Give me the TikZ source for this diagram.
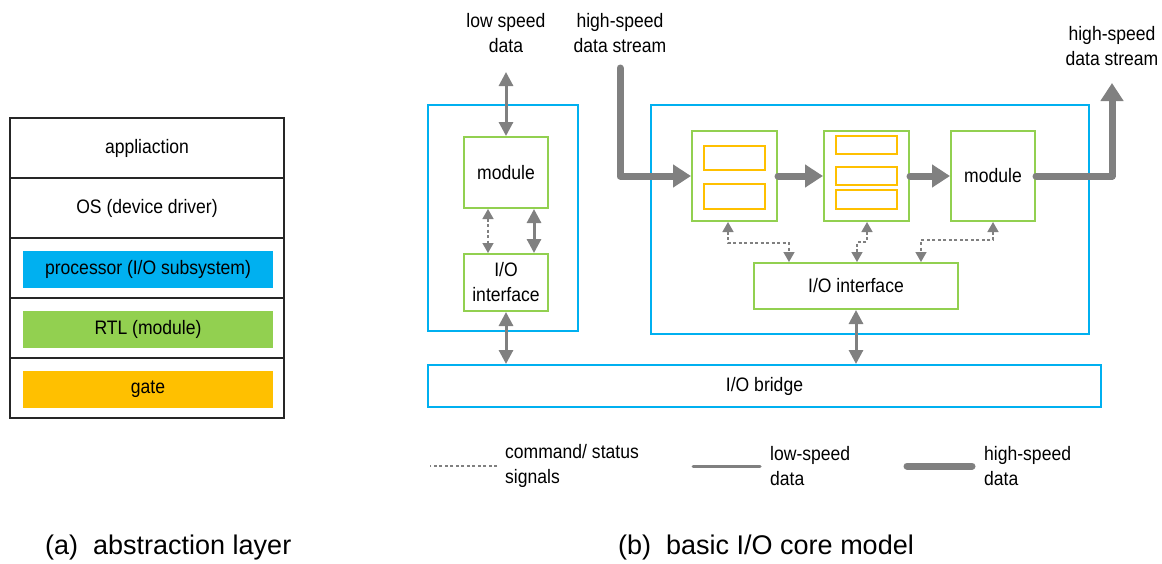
\documentclass[tikz,border=0pt]{standalone}
\usepackage{fontspec}
\setmainfont{Liberation Sans}[FakeStretch=0.9]
\newfontfamily\capfont{Liberation Sans}
\usetikzlibrary{arrows.meta}

\definecolor{sysblue}{HTML}{00B0F0}
\definecolor{rtlgreen}{HTML}{92D050}
\definecolor{gateorange}{HTML}{FFC000}
\definecolor{wiregray}{HTML}{808080}

\tikzset{
  txt/.style={font=\fontsize{19.5}{25}\selectfont, align=center, inner sep=0pt},
  layer/.style={txt, rectangle, draw=black!85, line width=1.6pt, minimum width=274pt, minimum height=60pt},
  bar/.style={txt, rectangle, minimum width=250pt, minimum height=37pt},
  subsys/.style={rectangle, draw=sysblue, line width=2pt},
  rtlbox/.style={txt, rectangle, draw=rtlgreen, line width=2pt},
  gatebox/.style={rectangle, draw=gateorange, line width=2pt},
  cmdsig/.style={draw=wiregray, line width=1.5pt, dash pattern=on 3pt off 2.5pt,
    {Triangle[length=10pt,width=11pt]}-{Triangle[length=10pt,width=11pt]}},
  lowdata/.style={draw=wiregray, line width=3pt,
    {Triangle[length=14pt,width=14pt]}-{Triangle[length=14pt,width=14pt]}},
  highdata/.style={draw=wiregray, line width=7pt, line join=round, line cap=round,
    -{Triangle[length=18pt,width=22pt]}},
  legtext/.style={txt, anchor=west, align=left},
  figcap/.style={font=\capfont\fontsize{27}{32}\selectfont, anchor=west, inner sep=0pt},
}

\begin{document}
\begin{tikzpicture}[x=1pt, y=-1pt]
    \useasboundingbox (0,0) rectangle (1162,563);

    % (a) abstraction layer
    \node [layer] (app) at (147,148) {appliaction};
    \node [layer] (os) at (147,208) {OS (device driver)};
    \node [layer] (rowproc) at (147,268) {};
    \node [layer] (rowrtl) at (147,328) {};
    \node [layer] (rowgate) at (147,388) {};
    \node [bar, fill=sysblue] (barproc) at (148,269.5) {processor (I/O subsystem)};
    \node [bar, fill=rtlgreen] (barrtl) at (148,329.5) {RTL (module)};
    \node [bar, fill=gateorange] (bargate) at (148,389.5) {gate};

    % (b) basic I/O core model
    \node [subsys, minimum width=150pt, minimum height=226pt] (sys1) at (503,218) {};
    \node [subsys, minimum width=438pt, minimum height=229pt] (sys2) at (870,219.5) {};
    \node [subsys, txt, minimum width=673pt, minimum height=42pt] (bridge) at (764.5,386) {I/O bridge};

    \node [rtlbox, minimum width=84pt, minimum height=71pt] (mod1) at (506,172.5) {module};
    \node [rtlbox, minimum width=84pt, minimum height=57pt] (if1) at (506,282.5) {I/O\\interface};

    \node [rtlbox, minimum width=85pt, minimum height=90pt] (blk1) at (734.5,176) {};
    \node [gatebox, minimum width=61pt, minimum height=24pt] (g11) at (734.5,158) {};
    \node [gatebox, minimum width=61pt, minimum height=25pt] (g12) at (734.5,196.5) {};

    \node [rtlbox, minimum width=85pt, minimum height=90pt] (blk2) at (866.5,176) {};
    \node [gatebox, minimum width=61pt, minimum height=18pt] (g21) at (866.5,145) {};
    \node [gatebox, minimum width=61pt, minimum height=18pt] (g22) at (866.5,176) {};
    \node [gatebox, minimum width=61pt, minimum height=19pt] (g23) at (866.5,199.5) {};

    \node [rtlbox, minimum width=84pt, minimum height=90pt] (mod3) at (993,176) {module};
    \node [rtlbox, minimum width=204pt, minimum height=46pt] (if2) at (856,286) {I/O interface};

    \node [txt] (lowlbl) at (506,33) {low speed\\data};
    \node [txt] (inlbl) at (620,33) {high-speed\\data stream};
    \node [txt] (outlbl) at (1112,46) {high-speed\\data stream};

    \coordinate (lowend) at (506,72);
    \coordinate (hsin) at (620,68);
    \coordinate (hsout) at (1112,83);
    \coordinate (cmdA) at (488,0);
    \coordinate (lowA) at (534,0);
    \coordinate (j1a) at (728,243);
    \coordinate (j1b) at (789,243);
    \coordinate (j2a) at (867,242);
    \coordinate (j2b) at (857,242);
    \coordinate (j3a) at (993,240);
    \coordinate (j3b) at (921,240);

    \draw[lowdata] (lowend) -- (mod1.north);
    \draw[cmdsig] (mod1.south -| cmdA) -- (if1.north -| cmdA);
    \draw[lowdata] (mod1.south -| lowA) -- (if1.north -| lowA);
    \draw[lowdata] (if1.south) -- (if1.south |- bridge.north);

    \draw[highdata] (hsin) |- (blk1.west);
    \draw[highdata] (blk1.east) -- (blk2.west);
    \draw[highdata] (blk2.east) -- (mod3.west);
    \draw[highdata] (mod3.east) -| (hsout);

    \draw[cmdsig] (blk1.south -| j1a) -- (j1a) -- (j1b) -- (if2.north -| j1b);
    \draw[cmdsig] (blk2.south -| j2a) -- (j2a) -- (j2b) -- (if2.north -| j2b);
    \draw[cmdsig] (mod3.south -| j3a) -- (j3a) -- (j3b) -- (if2.north -| j3b);
    \draw[lowdata] (if2.south) -- (if2.south |- bridge.north);

    % legend
    \node [legtext] (legcmd) at (505,466) {command/ status\\signals};
    \node [legtext] (leglow) at (770,466) {low-speed\\data};
    \node [legtext] (leghigh) at (984,466) {high-speed\\data};
    \draw[draw=wiregray, line width=1.5pt, dash pattern=on 3pt off 2.5pt] ([xshift=-8pt]legcmd.west) -- ++(-67,0);
    \draw[draw=wiregray, line width=3pt, line cap=round] ([xshift=-10pt]leglow.west) -- ++(-67,0);
    \draw[draw=wiregray, line width=7pt, line cap=round] ([xshift=-12pt]leghigh.west) -- ++(-65,0);

    \node [figcap] (capa) at (45,548) {(a)\ \ abstraction layer};
    \node [figcap] (capb) at (618,548) {(b)\ \ basic I/O core model};
\end{tikzpicture}
\end{document}
